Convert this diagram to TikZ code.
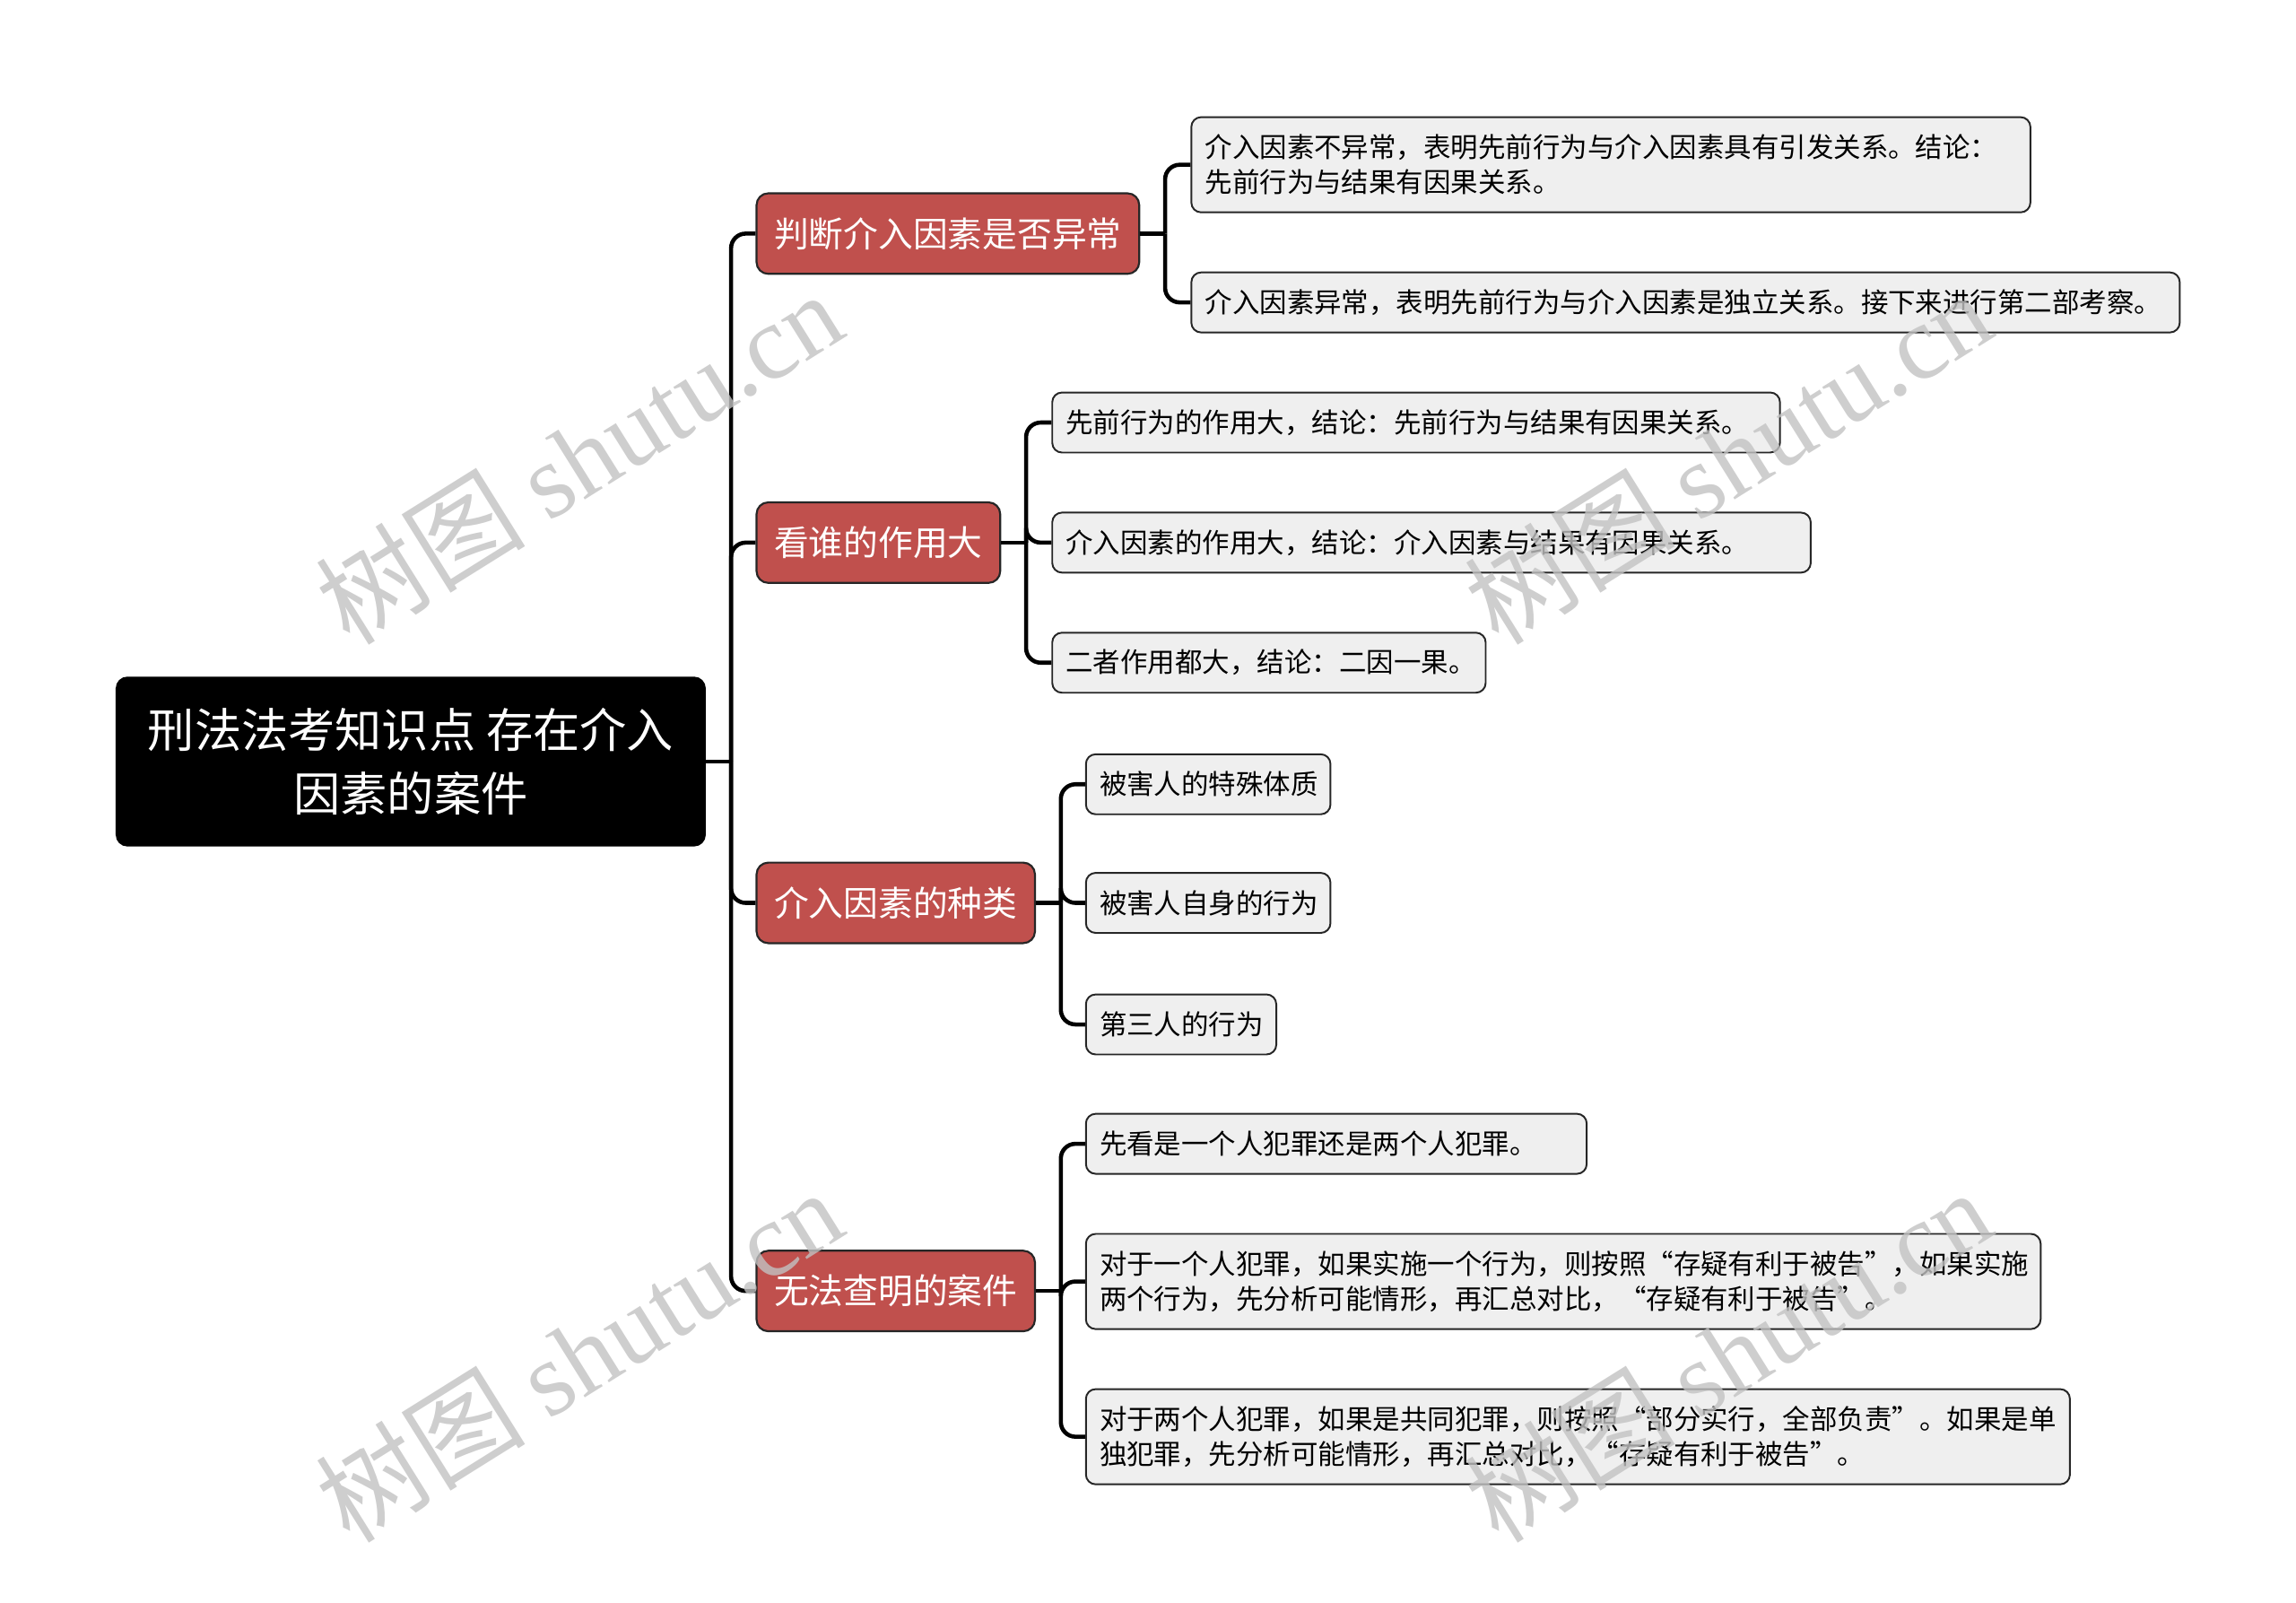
\documentclass[tikz,border=0pt]{standalone}
\usepackage{fontspec}
\setmainfont{Noto Sans CJK SC}
\newfontfamily\markfont{Liberation Serif}
\definecolor{topicred}{HTML}{C0504D}
\definecolor{leafgray}{HTML}{EFEFEF}
\definecolor{boxline}{HTML}{262626}

\begin{document}
\begin{tikzpicture}[x=0.75pt, y=-0.75pt,
    rootbox/.style={rectangle, rounded corners=6pt, fill=black, text=white, align=center,
        font=\fontsize{24}{32.25}\selectfont, minimum width=302.25pt, minimum height=87pt},
    topicbox/.style={rectangle, rounded corners=6pt, draw=boxline, line width=1pt, fill=topicred,
        text=white, anchor=west, inner xsep=9pt, minimum height=41.25pt,
        font=\fontsize{17.8}{20}\selectfont},
    leafbox/.style={rectangle, rounded corners=5pt, draw=boxline, line width=0.9pt, fill=leafgray,
        anchor=west, align=left, inner xsep=7pt, inner ysep=2pt, text width=#1, minimum height=30.75pt,
        font=\fontsize{14}{18}\selectfont},
    conn/.style={line width=2.1pt, rounded corners=7.5pt},
    watermark/.style={rotate=32, text=black!24, text opacity=0.8, font=\fontsize{54}{54}\selectfont}]

    \useasboundingbox (0,0) rectangle (1568,1094);

    % Tema centrale
    \node (root) at (280.5,520) [rootbox] {刑法法考知识点 存在介入\\因素的案件};

    % Rami principali
    \node (t1) at (516,159.5) [topicbox] {判断介入因素是否异常};
    \node (t2) at (516,370.5) [topicbox] {看谁的作用大};
    \node (t3) at (516,616.5) [topicbox] {介入因素的种类};
    \node (t4) at (516,881.5) [topicbox] {无法查明的案件};

    % Foglie del primo ramo
    \node (a1) at (813,112.5) [leafbox=415.75pt, minimum height=48.75pt] {介入因素不异常，表明先前行为与介入因素具有引发关系。结论：\\先前行为与结果有因果关系。};
    \node (a2) at (813,206.5) [leafbox=492.25pt] {介入因素异常，表明先前行为与介入因素是独立关系。接下来进行第二部考察。};

    % Foglie del secondo ramo
    \node (b1) at (718,288.5) [leafbox=358.75pt] {先前行为的作用大，结论：先前行为与结果有因果关系。};
    \node (b2) at (718,370.5) [leafbox=374.5pt] {介入因素的作用大，结论：介入因素与结果有因果关系。};
    \node (b3) at (718,452.5) [leafbox=208pt] {二者作用都大，结论：二因一果。};

    % Foglie del terzo ramo
    \node (c1) at (741,535.5) [leafbox=111.25pt] {被害人的特殊体质};
    \node (c2) at (741,616.5) [leafbox=111.25pt] {被害人自身的行为};
    \node (c3) at (741,699.5) [leafbox=83.5pt] {第三人的行为};

    % Foglie del quarto ramo
    \node (d1) at (741,781) [leafbox=242.5pt] {先看是一个人犯罪还是两个人犯罪。};
    \node (d2) at (741,875) [leafbox=475pt, minimum height=48.75pt] {对于一个人犯罪，如果实施一个行为，则按照“存疑有利于被告”，如果实施\\两个行为，先分析可能情形，再汇总对比，“存疑有利于被告”。};
    \node (d3) at (741,981) [leafbox=490pt, minimum height=48.75pt] {对于两个人犯罪，如果是共同犯罪，则按照“部分实行，全部负责”。如果是单\\独犯罪，先分析可能情形，再汇总对比，“存疑有利于被告”。};

    % Collegamenti
    \draw[conn] (root.east) -- ++(17,0) coordinate (s0);
    \foreach \t in {t1,t2,t3,t4} \draw[conn] (s0) |- (\t.west);
    \draw[conn] (t1.east) -- ++(17,0) coordinate (s1);
    \foreach \t in {a1,a2} \draw[conn] (s1) |- (\t.west);
    \draw[conn] (t2.east) -- ++(17,0) coordinate (s2);
    \foreach \t in {b1,b2,b3} \draw[conn] (s2) |- (\t.west);
    \draw[conn] (t3.east) -- ++(17,0) coordinate (s3);
    \foreach \t in {c1,c2,c3} \draw[conn] (s3) |- (\t.west);
    \draw[conn] (t4.east) -- ++(17,0) coordinate (s4);
    \foreach \t in {d1,d2,d3} \draw[conn] (s4) |- (\t.west);

    % Filigrana
    \foreach \wx/\wy [count=\i] in {395/312, 1180/312, 395/925, 1180/925}
        \node (wm\i) at (\wx,\wy) [watermark] {树图 {\markfont shutu.cn}};
\end{tikzpicture}
\end{document}
